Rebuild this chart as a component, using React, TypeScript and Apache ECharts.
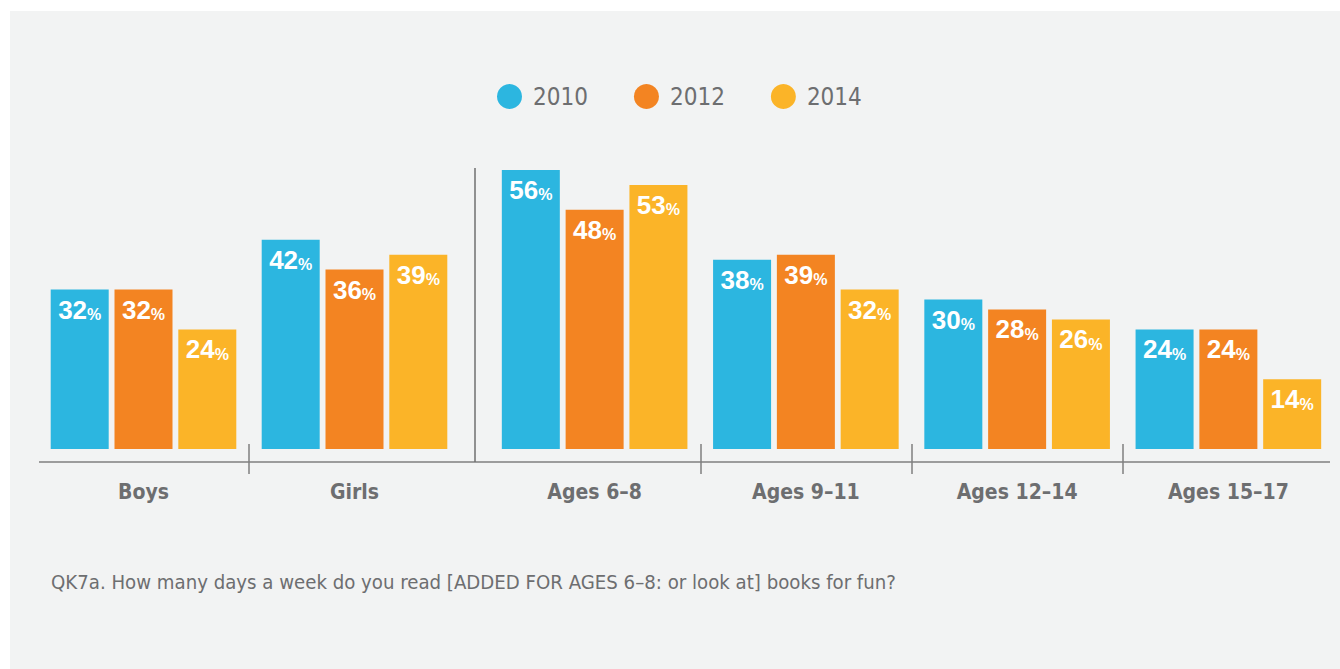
import React, { useEffect, useRef } from "react";
import * as echarts from "echarts";

// ---- data ----
const years = ["2010", "2012", "2014"];
const genderCategories = ["Boys", "Girls"];
const ageCategories = ["Ages 6–8", "Ages 9–11", "Ages 12–14", "Ages 15–17"];
const gender2010 = [32, 42];
const gender2012 = [32, 36];
const gender2014 = [24, 39];
const age2010 = [56, 38, 30, 24];
const age2012 = [48, 39, 28, 24];
const age2014 = [53, 32, 26, 14];
const footnote =
  "QK7a. How many days a week do you read [ADDED FOR AGES 6–8: or look at] books for fun?";

// ---- styles ----
const colors = ["#2cb6e0", "#f38422", "#fbb428"];
const NARROW = "'DejaVu Sans Condensed', 'Liberation Sans', sans-serif";
const LABEL_FONT = "'Liberation Sans', Arial, sans-serif";
const GREY_TEXT = "#6d6e70";
const AXIS_GREY = "#7f7f7f";

const barLabel = {
  show: true,
  position: "insideTop",
  distance: 7,
  formatter: (p: any) => `{n|${p.value}}{p|%}`,
  rich: {
    n: {
      fontSize: 26,
      lineHeight: 26,
      fontWeight: "bold",
      color: "#ffffff",
      fontFamily: LABEL_FONT,
    },
    p: {
      fontSize: 16,
      fontWeight: "bold",
      color: "#ffffff",
      fontFamily: LABEL_FONT,
      verticalAlign: "bottom",
    },
  },
};

function makeSeries(name: string, data: number[], idx: number, colorIdx: number) {
  return {
    name,
    type: "bar",
    xAxisIndex: idx,
    yAxisIndex: idx,
    data,
    barWidth: 58,
    barGap: "10%",
    itemStyle: { color: colors[colorIdx] },
    label: barLabel,
  };
}

const catAxisBase = {
  type: "category",
  position: "bottom",
  offset: -5,
  axisLine: { show: false },
  axisTick: { show: false },
  axisLabel: {
    margin: 37,
    fontSize: 21,
    lineHeight: 21,
    fontWeight: "bold",
    color: GREY_TEXT,
    fontFamily: NARROW,
  },
};

const tickAxisBase = {
  type: "value",
  position: "bottom",
  offset: -5,
  min: 0,
  interval: 1,
  axisLine: { show: false },
  axisLabel: { show: false },
  splitLine: { show: false },
};

export default function App() {
  const ref = useRef<HTMLDivElement>(null);

  useEffect(() => {
    if (!ref.current) return;
    const chart = echarts.init(ref.current, null, { renderer: "svg" });
    chart.setOption({
      animation: false,
      backgroundColor: "#ffffff",
      color: colors,
      title: {
        text: footnote,
        left: 51,
        top: 572,
        padding: 0,
        textStyle: {
          fontSize: 20.2,
          fontWeight: "normal",
          color: GREY_TEXT,
          fontFamily: NARROW,
        },
      },
      legend: {
        data: years,
        left: 497,
        top: 84,
        padding: 0,
        icon: "circle",
        itemWidth: 25,
        itemHeight: 25,
        itemGap: 46,
        textStyle: {
          fontSize: 24,
          color: GREY_TEXT,
          fontFamily: NARROW,
          padding: [0, 0, 0, 6],
        },
      },
      grid: [
        { left: 38, top: 150, width: 422, height: 299, containLabel: false },
        { left: 489, top: 150, width: 845, height: 299, containLabel: false },
      ],
      xAxis: [
        { ...catAxisBase, gridIndex: 0, data: genderCategories },
        { ...catAxisBase, gridIndex: 1, data: ageCategories },
        {
          ...tickAxisBase,
          gridIndex: 0,
          max: genderCategories.length,
          axisTick: {
            show: true,
            length: 30,
            customValues: [1],
            lineStyle: { color: AXIS_GREY, width: 1.5 },
          },
        },
        {
          ...tickAxisBase,
          gridIndex: 1,
          max: ageCategories.length,
          axisTick: {
            show: true,
            length: 30,
            customValues: [1, 2, 3],
            lineStyle: { color: AXIS_GREY, width: 1.5 },
          },
        },
      ],
      yAxis: [
        { type: "value", gridIndex: 0, min: 0, max: 60, show: false },
        { type: "value", gridIndex: 1, min: 0, max: 60, show: false },
      ],
      graphic: [
        {
          type: "rect",
          z: -10,
          silent: true,
          shape: { x: 10, y: 11, width: 1330, height: 658 },
          style: { fill: "#f2f3f3" },
        },
        {
          type: "line",
          z: 10,
          silent: true,
          shape: { x1: 39, y1: 462, x2: 1330, y2: 462 },
          style: { stroke: AXIS_GREY, lineWidth: 1.5 },
        },
        {
          type: "line",
          z: 10,
          silent: true,
          shape: { x1: 475, y1: 168, x2: 475, y2: 462 },
          style: { stroke: "#6f6f6f", lineWidth: 1.5 },
        },
      ],
      series: [
        makeSeries(years[0], gender2010, 0, 0),
        makeSeries(years[1], gender2012, 0, 1),
        makeSeries(years[2], gender2014, 0, 2),
        makeSeries(years[0], age2010, 1, 0),
        makeSeries(years[1], age2012, 1, 1),
        makeSeries(years[2], age2014, 1, 2),
      ],
    });
    return () => chart.dispose();
  }, []);

  return (
    <div
      ref={ref}
      style={{ position: "absolute", left: 0, top: 0, width: 1340, height: 669 }}
    />
  );
}
